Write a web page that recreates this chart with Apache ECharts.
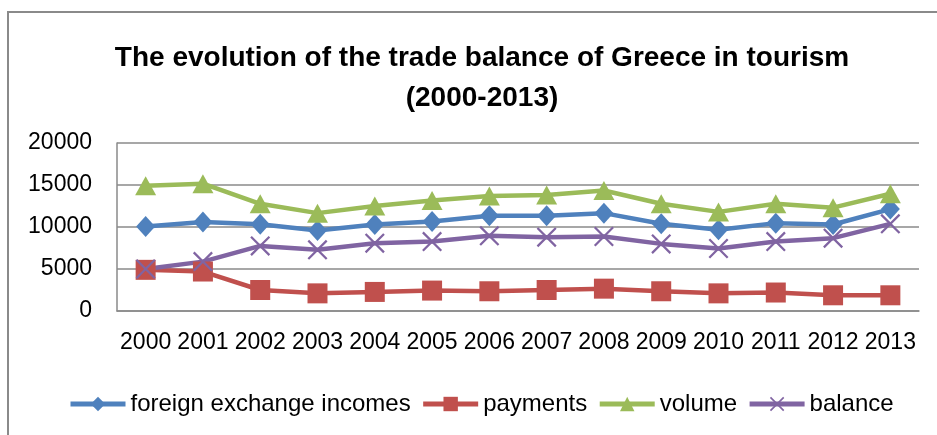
<!DOCTYPE html>
<html>
<head>
<meta charset="utf-8">
<script src="https://cdn.jsdelivr.net/npm/echarts@6/dist/echarts.min.js"></script>
<style>
    html, body { margin: 0; padding: 0; background: #fff; }
    #chart { width: 937px; height: 435px; }
</style>
</head>
<body>
<div id="chart"></div>
<script>
// 数据
var years = ['2000', '2001', '2002', '2003', '2004', '2005', '2006', '2007', '2008', '2009', '2010', '2011', '2012', '2013'];
var incomes = [10060, 10600, 10340, 9580, 10300, 10650, 11330, 11330, 11650, 10380, 9660, 10460, 10300, 12130];
var payments = [4900, 4700, 2500, 2100, 2270, 2430, 2350, 2500, 2660, 2350, 2100, 2200, 1870, 1870];
var volume = [14900, 15150, 12760, 11650, 12500, 13160, 13700, 13800, 14350, 12760, 11800, 12760, 12300, 13960];
var balance = [5000, 5880, 7750, 7280, 8070, 8270, 8950, 8790, 8870, 7990, 7440, 8270, 8670, 10380];
var yTicks = [0, 5000, 10000, 15000, 20000];

(function() {
    var myChart = echarts.init(document.getElementById('chart'));
    var font = 'Liberation Sans';
    // X 形标记
    var crossPath = 'path://M0,0.8L0.8,0L10,9.2L9.2,10Z M9.2,0L10,0.8L0.8,10L0,9.2Z';

    function makeSeries(name, data, color, symbol, size) {
        return {
            name: name,
            type: 'line',
            data: data,
            symbol: symbol,
            symbolSize: size,
            showAllSymbol: true,
            lineStyle: { color: color, width: 4.5 },
            itemStyle: { color: color },
            emphasis: { disabled: true },
            animation: false
        };
    }

    var option = {
        backgroundColor: '#fff',
        title: {
            text: 'The evolution of the trade balance of Greece in tourism\n(2000-2013)',
            left: 477,
            top: 33,
            textAlign: 'center',
            textStyle: {
                fontFamily: font,
                fontSize: 28,
                fontWeight: 'bold',
                lineHeight: 40,
                color: '#000'
            }
        },
        graphic: [{
            type: 'rect',
            shape: { x: 8, y: 12, width: 1000, height: 1000 },
            style: { fill: 'none', stroke: '#8a8a8a', lineWidth: 2 },
            silent: true
        }],
        legend: {
            left: 63,
            top: 387,
            itemWidth: 55,
            itemHeight: 18,
            itemGap: 10,
            lineStyle: { width: 5 },
            textStyle: { fontFamily: font, fontSize: 24, color: '#000' },
            data: ['foreign exchange incomes', 'payments', 'volume', 'balance']
        },
        grid: {
            left: 117,
            right: 18,
            top: 143,
            bottom: 124,
            containLabel: false
        },
        xAxis: {
            type: 'category',
            data: years,
            boundaryGap: true,
            axisLine: { show: true, lineStyle: { color: '#8a8a8a', width: 1.5 } },
            axisTick: { show: false },
            axisLabel: {
                margin: 20,
                fontFamily: font,
                fontSize: 23,
                color: '#000',
                interval: 0
            }
        },
        yAxis: {
            type: 'value',
            min: yTicks[0],
            max: yTicks[yTicks.length - 1],
            interval: 5000,
            axisLine: { show: true, lineStyle: { color: '#8a8a8a', width: 1.5 } },
            axisTick: { show: false },
            splitLine: { show: true, lineStyle: { color: '#8a8a8a', width: 1.5 } },
            axisLabel: {
                margin: 25,
                fontFamily: font,
                fontSize: 23,
                color: '#000',
                formatter: function(v) { return String(v); }
            }
        },
        series: [
            makeSeries('foreign exchange incomes', incomes, '#4F81BD', 'diamond', [19, 21]),
            makeSeries('payments', payments, '#C0504D', 'rect', 20),
            makeSeries('volume', volume, '#9BBB59', 'triangle', [21, 19]),
            makeSeries('balance', balance, '#8064A2', crossPath, 20)
        ]
    };
    myChart.setOption(option);
})();
</script>
</body>
</html>
